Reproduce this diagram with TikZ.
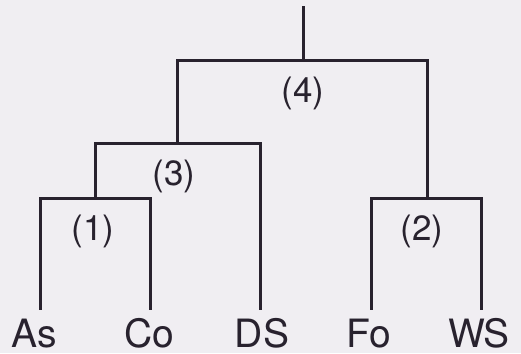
\documentclass[tikz,border=0pt]{standalone}
\usepackage{fontspec}
\setmainfont{TeX Gyre Heros}
\begin{document}
\begin{tikzpicture}[x=1pt,y=-1pt,
  branch/.style={draw=linecol,line width=3pt,line cap=rect},
  leaf/.style={font=\fontsize{39}{39}\selectfont,text=linecol,anchor=base,inner sep=0pt},
  lab/.style={font=\fontsize{35}{35}\selectfont,text=linecol,inner sep=0pt}]
\definecolor{linecol}{RGB}{40,34,46}
\definecolor{bgcol}{RGB}{240,238,242}
\fill[bgcol] (0,0) rectangle (521,353);
\useasboundingbox (0,0) rectangle (521,353);
% leaf ends
\coordinate (tAs) at (40,308);
\coordinate (tCo) at (150,308);
\coordinate (tDS) at (260,308);
\coordinate (tFo) at (371,308);
\coordinate (tWS) at (481,308);
\node[leaf] (As) at (34,347) {As};
\node[leaf] (Co) at (149,347) {Co};
\node[leaf] (DS) at (262,347) {DS};
\node[leaf] (Fo) at (369,347) {Fo};
\node[leaf] (WS) at (479,347) {WS};
% junctions
\coordinate (j1) at (95,198);
\coordinate (j2) at (427,198);
\coordinate (j3) at (177,143);
\coordinate (j4) at (303,60);
\coordinate (root) at (303,8);
% clusters
\draw[branch] (tAs) |- (j1) -| (tCo);
\draw[branch] (tFo) |- (j2) -| (tWS);
\draw[branch] (j1) |- (j3) -| (tDS);
\draw[branch] (j3) |- (j4) -| (j2);
\draw[branch] (j4) -- (root);
% labels
\node[lab] (l1) at (93,231) {(1)};
\node[lab] (l2) at (422,231) {(2)};
\node[lab] (l3) at (174,176) {(3)};
\node[lab] (l4) at (303,93) {(4)};
\end{tikzpicture}
\end{document}
